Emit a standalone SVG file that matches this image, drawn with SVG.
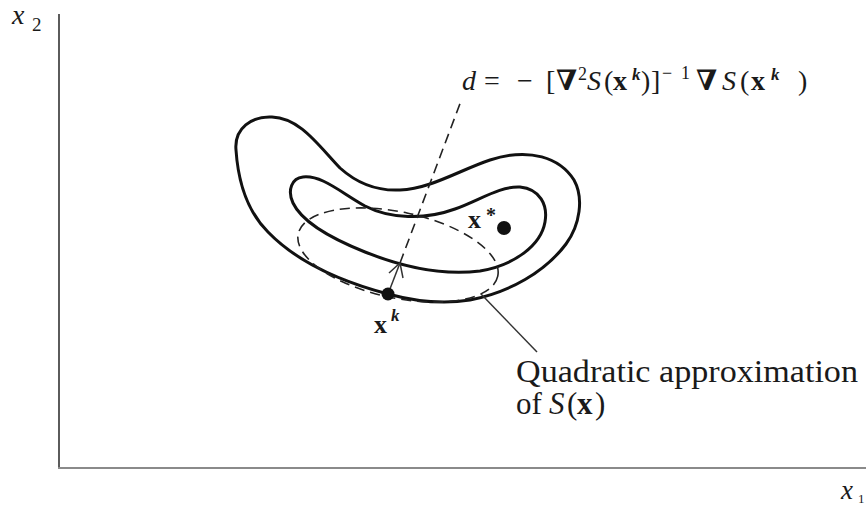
<svg xmlns="http://www.w3.org/2000/svg" width="868" height="506" viewBox="0 0 868 506">
<style>
.t{font-family:"Liberation Serif","DejaVu Serif",serif;fill:#1a1a1a}
.it{font-style:italic}
.b{font-weight:bold}
.contour{fill:none;stroke:#111;stroke-width:3}
.dash{fill:none;stroke:#222;stroke-width:1.6;stroke-dasharray:10 6}
.thin{fill:none;stroke:#333;stroke-width:1.5}
</style>
<rect width="868" height="506" fill="#fff"/>
<g id="axes">
<line x1="59" y1="14" x2="59" y2="469" stroke="#333" stroke-width="1.6"/>
<line x1="58" y1="468" x2="866" y2="468" stroke="#8a8a8a" stroke-width="2"/>
<text class="t it" x="12" y="24" font-size="28">x</text>
<text class="t" x="32" y="31" font-size="19">2</text>
<text class="t it" x="841" y="499" font-size="27">x</text>
<text class="t" x="858" y="503" font-size="13">1</text>
</g>
<g id="outer-contour">
<path class="contour" d="M236,150 C234,128 252,116 272,117 C300,118 318,145 340,168 C360,186 380,191 400,190 C430,189 460,170 490,160 C530,147 560,158 574,180 C584,198 580,225 566,244 C545,272 510,292 470,300 C440,305 410,300 388,294 C350,284 300,265 268,232 C246,210 238,180 236,150 Z"/>
</g>
<g id="inner-contour">
<path class="contour" d="M303,177 C322,175 340,192 365,206 C390,219 425,220 455,209 C480,200 500,186 520,187 C540,189 548,205 545,222 C541,245 515,265 480,271 C440,276 400,266 365,252 C330,238 302,222 293,203 C287,190 292,178 303,177 Z"/>
</g>
<g id="quadratic-approximation">
<ellipse class="dash" cx="398" cy="255" rx="102" ry="43" transform="rotate(12 398 255)"/>
</g>
<g id="connectors">
<line class="thin" x1="388" y1="294" x2="400" y2="263"/>
<polyline class="thin" points="389,273 400,263 403,278"/>
<line class="dash" x1="400" y1="263" x2="461" y2="101"/>
<line class="thin" x1="481" y1="294" x2="537" y2="352"/>
</g>
<g id="xk">
<circle cx="388" cy="294" r="6.5" fill="#111"/>
<text class="t b" x="374" y="333" font-size="26">x</text>
<text class="t it b" x="391" y="321" font-size="17">k</text>
</g>
<g id="xstar">
<circle cx="504" cy="228" r="7" fill="#111"/>
<text class="t b" x="468" y="228" font-size="26">x</text>
<text class="t b" x="486" y="222" font-size="20">*</text>
</g>
<g id="newton-direction-label">
<text class="t" font-size="28" y="90"><tspan class="it" x="462">d</tspan><tspan x="484">=</tspan><tspan x="517">−</tspan><tspan x="546">[</tspan><tspan class="b" x="556">∇</tspan><tspan x="578" y="80" font-size="18">2</tspan><tspan class="it" x="587" y="90">S</tspan><tspan x="604">(</tspan><tspan class="b" x="613">x</tspan><tspan class="it b" x="632" y="80" font-size="17">k</tspan><tspan x="641" y="90">)</tspan><tspan x="651">]</tspan><tspan x="662" y="79" font-size="18">−</tspan><tspan x="681" font-size="18">1</tspan><tspan class="b" x="696" y="90">∇</tspan><tspan class="it" x="722">S</tspan><tspan x="740">(</tspan><tspan class="b" x="751">x</tspan><tspan class="it b" x="771" y="80" font-size="17">k</tspan><tspan x="798" y="90">)</tspan></text>
</g>
<g id="approx-label">
<text class="t" x="516" y="382" font-size="31" textLength="342" lengthAdjust="spacingAndGlyphs">Quadratic approximation</text>
<text class="t" font-size="31" y="414"><tspan x="516">of</tspan><tspan class="it" x="549">S</tspan><tspan x="567">(</tspan><tspan class="b" x="577">x</tspan><tspan x="595">)</tspan></text>
</g>
</svg>
